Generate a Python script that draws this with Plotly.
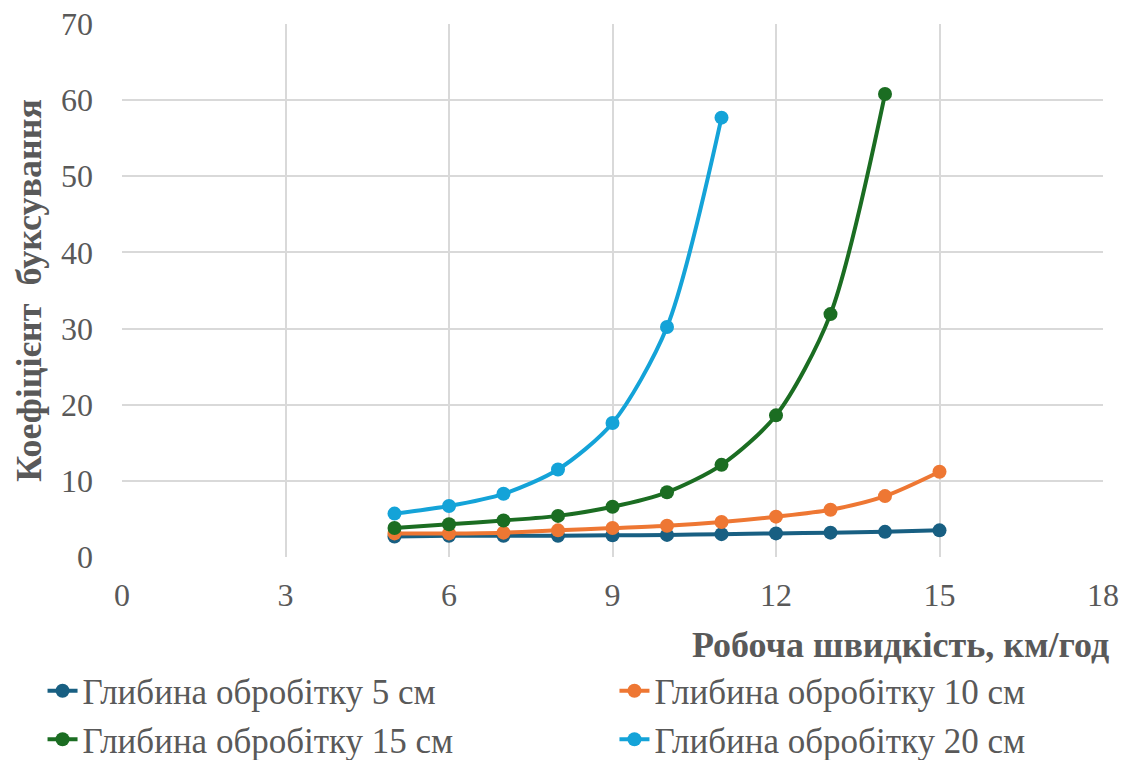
import plotly.graph_objects as go

speed_5 = [5, 6, 7, 8, 9, 10, 11, 12, 13, 14, 15]
depth5 = [2.7, 2.8, 2.8, 2.8, 2.85, 2.9, 3.0, 3.1, 3.2, 3.3, 3.5]
speed_10 = [5, 6, 7, 8, 9, 10, 11, 12, 13, 14, 15]
depth10 = [3.1, 3.1, 3.2, 3.5, 3.8, 4.1, 4.6, 5.3, 6.2, 8.0, 11.2]
speed_15 = [5, 6, 7, 8, 9, 10, 11, 12, 13, 14]
depth15 = [3.8, 4.3, 4.8, 5.4, 6.6, 8.5, 12.1, 18.6, 31.9, 60.8]
speed_20 = [5, 6, 7, 8, 9, 10, 11]
depth20 = [5.7, 6.7, 8.3, 11.5, 17.6, 30.2, 57.7]

names = ["Глибина обробітку 5 см", "Глибина обробітку 10 см",
         "Глибина обробітку 15 см", "Глибина обробітку 20 см"]
colors = ["#185f82", "#ee7733", "#1b6d22", "#14a3d8"]
legend_ids = ["legend", "legend2", "legend", "legend2"]
xs = [speed_5, speed_10, speed_15, speed_20]
ys = [depth5, depth10, depth15, depth20]

x_ticks = [0, 3, 6, 9, 12, 15, 18]
y_ticks = [0, 10, 20, 30, 40, 50, 60, 70]

FONT = "Liberation Serif"
GRAY = "#595959"

fig = go.Figure()
for x, y, n, c, lg in zip(xs, ys, names, colors, legend_ids):
    fig.add_trace(go.Scatter(
        x=x, y=y, name=n, mode="lines+markers", legend=lg,
        line=dict(color=c, width=4, shape="spline", smoothing=0.8),
        marker=dict(color=c, size=14),
    ))

legend_common = dict(
    orientation="v", xref="paper", y=-0.196, yanchor="top",
    font=dict(family=FONT, size=35, color=GRAY), tracegroupgap=0,
    bgcolor="rgba(0,0,0,0)",
)

fig.update_layout(
    width=1126, height=760,
    margin=dict(l=122, r=23, t=24, b=203, autoexpand=False),
    paper_bgcolor="white", plot_bgcolor="white",
    font=dict(family=FONT, color=GRAY, size=32),
    showlegend=True,
    legend=dict(x=-0.081, **legend_common),
    legend2=dict(x=0.502, **legend_common),
    xaxis=dict(
        range=[0, 18], tickvals=x_ticks, showgrid=True, gridcolor="#d9d9d9",
        gridwidth=1.5, zeroline=False, showline=False, ticks="",
        ticklabelstandoff=16,
        tickfont=dict(family=FONT, size=32, color=GRAY),
    ),
    yaxis=dict(
        range=[0, 70], tickvals=y_ticks, showgrid=True, gridcolor="#d9d9d9",
        gridwidth=1.5, zeroline=False, showline=False, ticks="",
        ticklabelstandoff=28,
        tickfont=dict(family=FONT, size=32, color=GRAY),
        title=dict(text="<b>Коефіцієнт  буксування</b>", standoff=8,
                   font=dict(family=FONT, size=36, color=GRAY)),
    ),
    annotations=[dict(
        text="<b>Робоча швидкість, км/год</b>", xref="paper", yref="paper",
        x=1.008, y=-0.165, xanchor="right", yanchor="middle", showarrow=False,
        font=dict(family=FONT, size=36, color=GRAY),
    )],
)

fig.write_html("out.html")
